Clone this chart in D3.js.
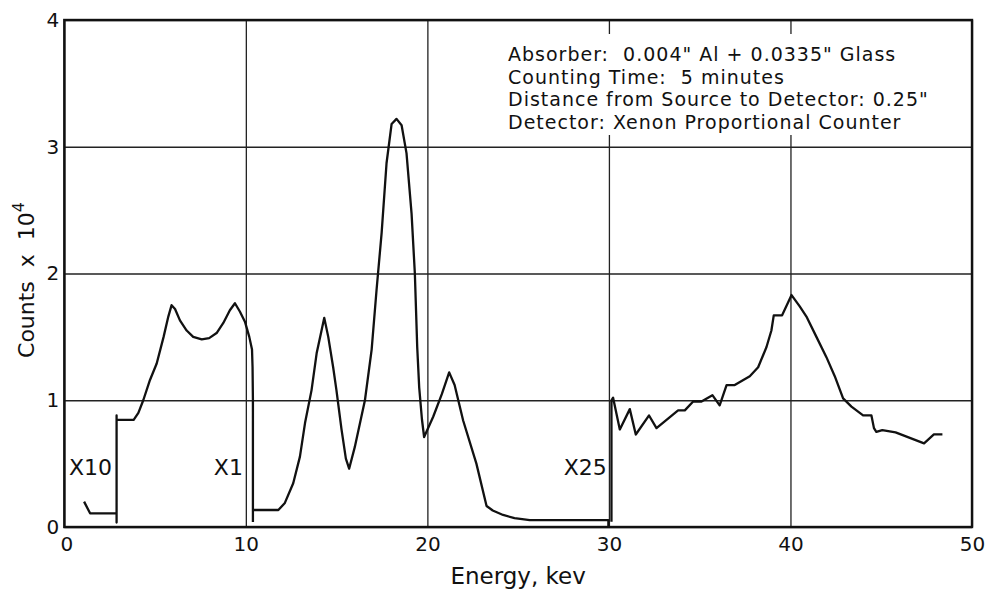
<!DOCTYPE html>
<html>
<head>
<meta charset="utf-8">
<script src="https://cdn.jsdelivr.net/npm/d3@7"></script>
<style>
  body { margin: 0; background: #fff; }
  svg text { font-family: "DejaVu Sans", "Liberation Sans", sans-serif; fill: #111; }
</style>
</head>
<body>
<svg id="chart" width="986" height="592"></svg>
<script>
// energy (kev) / counts (x 10^4), one array per gain range
const segX10 = [
  [1.09, 0.20], [1.42, 0.108], [2.85, 0.108], [2.88, 0.108], [2.88, 0.035], [2.88, 0.88],
  [2.88, 0.845], [3.82, 0.845], [4.08, 0.90], [4.35, 1.0], [4.72, 1.16], [5.09, 1.29],
  [5.47, 1.50], [5.73, 1.66], [5.91, 1.75], [6.1, 1.72], [6.37, 1.63], [6.74, 1.55],
  [7.1, 1.50], [7.57, 1.48], [7.98, 1.49], [8.39, 1.53], [8.76, 1.61], [9.12, 1.71],
  [9.40, 1.765], [9.67, 1.70], [9.95, 1.62], [10.19, 1.50], [10.34, 1.40], [10.37, 1.26],
  [10.39, 1.0], [10.39, 0.04]
];
const segX1 = [
  [10.36, 0.134], [11.79, 0.134], [12.15, 0.19], [12.61, 0.345], [12.98, 0.555], [13.26, 0.82],
  [13.62, 1.08], [13.9, 1.37], [14.17, 1.55], [14.32, 1.65], [14.54, 1.50], [14.81, 1.26],
  [14.99, 1.08], [15.27, 0.77], [15.51, 0.54], [15.69, 0.46], [16.0, 0.63], [16.56, 1.0],
  [16.93, 1.40], [17.2, 1.87], [17.48, 2.32], [17.75, 2.87], [18.03, 3.18], [18.3, 3.22],
  [18.58, 3.17], [18.85, 2.95], [19.13, 2.47], [19.31, 2.0], [19.44, 1.42], [19.55, 1.1],
  [19.7, 0.85], [19.82, 0.71], [20.32, 0.87], [20.8, 1.05], [21.2, 1.22], [21.5, 1.12],
  [21.97, 0.84], [22.7, 0.50], [23.26, 0.166], [23.6, 0.13], [24.17, 0.095], [24.8, 0.07],
  [25.64, 0.055], [29.97, 0.055], [29.97, 0.0]
];
const segX25 = [
  [30.14, 0.042], [30.14, 1.0], [30.23, 1.02], [30.6, 0.77], [31.15, 0.93], [31.48, 0.73],
  [32.21, 0.88], [32.62, 0.78], [33.81, 0.92], [34.18, 0.92], [34.64, 0.99], [35.1, 0.99],
  [35.7, 1.04], [36.1, 0.96], [36.48, 1.12], [36.93, 1.12], [37.76, 1.19], [38.22, 1.26],
  [38.68, 1.42], [38.95, 1.55], [39.08, 1.67], [39.54, 1.67], [40.06, 1.83], [40.51, 1.74],
  [40.88, 1.66], [41.43, 1.50], [41.98, 1.34], [42.44, 1.19], [42.9, 1.015], [43.36, 0.95],
  [44.0, 0.88], [44.46, 0.88], [44.6, 0.78], [44.73, 0.75], [45.06, 0.765], [45.79, 0.747],
  [47.36, 0.66], [47.9, 0.73], [48.37, 0.73]
];

const gainLabels = ['X10', 'X1', 'X25'];
const gainLabelEnergy = [2.63, 9.84, 29.88];   // right edge of each label, kev
const gainLabelCounts = 0.41;

const xTicks = [0, 10, 20, 30, 40, 50];
const yTicks = [0, 1, 2, 3, 4];

const notes = [
  'Absorber:  0.004" Al + 0.0335" Glass',
  'Counting Time:  5 minutes',
  'Distance from Source to Detector: 0.25"',
  'Detector: Xenon Proportional Counter'
];

const svg = d3.select('#chart');
const mLeft = 64.3, mRight = 972, mTop = 20, mBottom = 527;

const x = d3.scaleLinear().domain([0, 50]).range([mLeft, mRight]);
const y = d3.scaleLinear().domain([0, 4]).range([mBottom, mTop]);

// grid via axes
const gx = svg.append('g')
    .attr('transform', `translate(0,${mBottom})`)
    .call(d3.axisBottom(x).tickValues(xTicks).tickSize(-(mBottom - mTop)).tickPadding(10).tickFormat(d3.format('d')));
gx.select('.domain').remove();
gx.selectAll('line').attr('stroke', '#222').attr('stroke-width', 1.3);
gx.selectAll('text').attr('font-size', 20).attr('fill', '#111');
gx.selectAll('.tick').filter(d => d === 0).select('text').attr('dx', 2);

const gy = svg.append('g')
    .attr('transform', `translate(${mLeft},0)`)
    .call(d3.axisLeft(y).tickValues(yTicks).tickSize(-(mRight - mLeft)).tickPadding(5).tickFormat(d3.format('d')));
gy.select('.domain').remove();
gy.selectAll('line').attr('stroke', '#222').attr('stroke-width', 1.3);
gy.selectAll('text').attr('font-size', 20).attr('fill', '#111');

// the notes block interrupts the grid
svg.append('rect')
    .attr('x', 500).attr('y', 34)
    .attr('width', 460).attr('height', 101)
    .attr('fill', '#fff');

// frame
svg.append('rect')
    .attr('x', mLeft).attr('y', mTop)
    .attr('width', mRight - mLeft).attr('height', mBottom - mTop)
    .attr('fill', 'none').attr('stroke', '#111').attr('stroke-width', 2.4);

const line = d3.line().x(d => x(d[0])).y(d => y(d[1]));

svg.selectAll('path.seg')
  .data([segX10, segX1, segX25])
  .join('path')
    .attr('class', 'seg')
    .attr('d', line)
    .attr('fill', 'none')
    .attr('stroke', '#111')
    .attr('stroke-width', 2.3)
    .attr('stroke-linejoin', 'round');

svg.selectAll('text.gain')
  .data(gainLabels)
  .join('text')
    .attr('class', 'gain')
    .attr('x', (d, i) => x(gainLabelEnergy[i]))
    .attr('y', y(gainLabelCounts))
    .attr('text-anchor', 'end')
    .attr('font-size', 22)
    .text(d => d);

svg.selectAll('text.note')
  .data(notes)
  .join('text')
    .attr('class', 'note')
    .attr('x', 508)
    .attr('y', (d, i) => 61 + i * 22.5)
    .attr('font-size', 19)
    .attr('letter-spacing', 1)
    .style('white-space', 'pre')
    .text(d => d);

svg.append('text')
    .attr('x', (mLeft + mRight) / 2)
    .attr('y', 584)
    .attr('text-anchor', 'middle')
    .attr('font-size', 23)
    .text('Energy, kev');

const yl = svg.append('text')
    .attr('transform', 'translate(34,280) rotate(-90)')
    .attr('text-anchor', 'middle')
    .attr('font-size', 22)
    .attr('word-spacing', 7);
yl.append('tspan').text('Counts x 10');
yl.append('tspan').attr('dy', -10).attr('font-size', 16).text('4');
</script>
</body>
</html>
